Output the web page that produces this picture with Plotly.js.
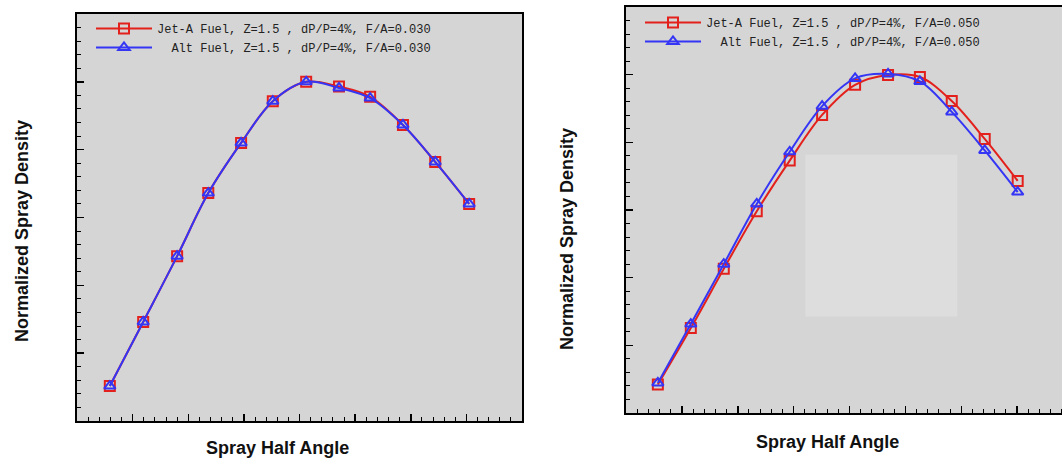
<!DOCTYPE html>
<html>
<head>
<meta charset="utf-8">
<script src="https://cdn.plot.ly/plotly-3.0.1.min.js"></script>
<style>
html,body{margin:0;padding:0;background:#fff;overflow:hidden;}
#chart{width:1075px;height:458px;}
</style>
</head>
<body>
<div id="chart"></div>
<script>
// Spray half angle positions (tick labels hidden in the reference)
const angleLeft  = [0.59, 1.19, 1.80, 2.36, 2.95, 3.52, 4.12, 4.71, 5.27, 5.86, 6.44, 7.05];
const angleRight = [0.57, 1.16, 1.75, 2.34, 2.93, 3.51, 4.10, 4.69, 5.26, 5.83, 6.42, 7.01];

// Left panel: F/A = 0.030
const jetA_030 = [0.103, 0.292, 0.486, 0.672, 0.820, 0.943, 1.000, 0.986, 0.956, 0.873, 0.764, 0.640];
const alt_030  = [0.103, 0.292, 0.486, 0.672, 0.820, 0.943, 1.000, 0.982, 0.952, 0.873, 0.764, 0.640];

// Right panel: F/A = 0.050
const jetA_050 = [0.084, 0.251, 0.426, 0.596, 0.746, 0.881, 0.970, 0.999, 0.993, 0.922, 0.810, 0.686];
const alt_050  = [0.089, 0.263, 0.440, 0.618, 0.772, 0.907, 0.989, 1.002, 0.980, 0.890, 0.776, 0.653];

const names = {
  jetA_030: "Jet-A Fuel, Z=1.5 , dP/P=4%, F/A=0.030",
  alt_030:  "\u00a0\u00a0Alt Fuel, Z=1.5 , dP/P=4%, F/A=0.030",
  jetA_050: "Jet-A Fuel, Z=1.5 , dP/P=4%, F/A=0.050",
  alt_050:  "\u00a0\u00a0Alt Fuel, Z=1.5 , dP/P=4%, F/A=0.050"
};

const RED = "#e3201c", BLUE = "#3535f5";
const W = 1075, H = 458;

function tr(x, y, name, color, symbol, xa, ya, leg) {
  return {
    x: x, y: y, name: name, type: "scatter", mode: "lines+markers",
    xaxis: xa, yaxis: ya, legend: leg,
    line: {color: color, width: 2, shape: "spline", smoothing: 1},
    marker: {symbol: symbol, size: 10, color: color, line: {width: 2}}
  };
}

const data = [
  tr(angleLeft, jetA_030, names.jetA_030, RED, "square-open", "x", "y", "legend"),
  tr(angleLeft, alt_030, names.alt_030, BLUE, "triangle-up-open", "x", "y", "legend"),
  tr(angleRight, jetA_050, names.jetA_050, RED, "square-open", "x2", "y2", "legend2"),
  tr(angleRight, alt_050, names.alt_050, BLUE, "triangle-up-open", "x2", "y2", "legend2")
];

function xax(d0, d1) {
  return {
    domain: [d0 / W, d1 / W], range: [0, 8], dtick: 1, tick0: 0,
    showticklabels: false, ticks: "inside", ticklen: 7, tickwidth: 1.5, tickcolor: "#000",
    minor: {dtick: 0.2, ticks: "inside", ticklen: 4, tickwidth: 1, tickcolor: "#000"},
    showgrid: false, zeroline: false, showline: true, mirror: true,
    linecolor: "#000", linewidth: 2, fixedrange: true
  };
}
function yax(top, bot) {
  return {
    domain: [(H - bot) / H, (H - top) / H], range: [0, 1.2], dtick: 0.2, tick0: 0,
    showticklabels: false, ticks: "inside", ticklen: 7, tickwidth: 1.5, tickcolor: "#000",
    minor: {dtick: 0.04, ticks: "inside", ticklen: 4, tickwidth: 1, tickcolor: "#000"},
    showgrid: false, zeroline: false, showline: true, mirror: true,
    linecolor: "#000", linewidth: 2, fixedrange: true
  };
}

const titleFont = {family: "Liberation Sans, Arial, sans-serif", size: 18, color: "#111", weight: "bold"};
const legFont = {family: "Liberation Mono, Courier New, monospace", size: 12, color: "#222"};

const layout = {
  width: W, height: H,
  margin: {l: 0, r: 0, t: 0, b: 0},
  paper_bgcolor: "#ffffff",
  plot_bgcolor: "#d5d5d5",
  showlegend: true,
  xaxis: Object.assign(xax(77, 522), {anchor: "y"}),
  yaxis: Object.assign(yax(14, 421), {anchor: "x"}),
  xaxis2: Object.assign(xax(626, 1073), {anchor: "y2"}),
  yaxis2: Object.assign(yax(7, 413), {anchor: "x2"}),
  legend: {
    x: 91 / W, y: 1 - 14 / H, xanchor: "left", yanchor: "top",
    bgcolor: "rgba(0,0,0,0)", borderwidth: 0, font: legFont,
    tracegroupgap: 0, itemclick: false, itemwidth: 56
  },
  legend2: {
    x: 640 / W, y: 1 - 8 / H, xanchor: "left", yanchor: "top",
    bgcolor: "rgba(0,0,0,0)", borderwidth: 0, font: legFont,
    tracegroupgap: 0, itemclick: false, itemwidth: 56
  },
  shapes: [
    {type: "rect", xref: "x2", yref: "y2", x0: 3.21, x1: 5.93, y0: 0.285, y1: 0.763,
     fillcolor: "#dddddd", line: {width: 0}, layer: "below"}
  ],
  annotations: [
    {text: "Normalized Spray Density", xref: "paper", yref: "paper", x: 22 / W, y: 1 - 231 / H,
     xanchor: "center", yanchor: "middle", textangle: -90, showarrow: false, font: titleFont},
    {text: "Spray Half Angle", xref: "paper", yref: "paper", x: 277 / W, y: 1 - 448 / H,
     xanchor: "center", yanchor: "middle", showarrow: false, font: titleFont},
    {text: "Normalized Spray Density", xref: "paper", yref: "paper", x: 567 / W, y: 1 - 239 / H,
     xanchor: "center", yanchor: "middle", textangle: -90, showarrow: false, font: titleFont},
    {text: "Spray Half Angle", xref: "paper", yref: "paper", x: 827 / W, y: 1 - 442 / H,
     xanchor: "center", yanchor: "middle", showarrow: false, font: titleFont}
  ]
};

Plotly.newPlot("chart", data, layout, {displayModeBar: false, staticPlot: true});
</script>
</body>
</html>
